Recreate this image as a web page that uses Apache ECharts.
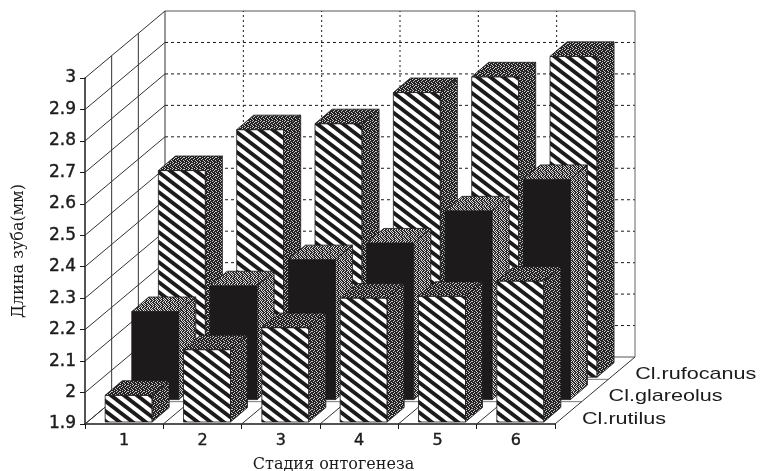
<!DOCTYPE html>
<html><head><meta charset="utf-8">
<style>html,body{margin:0;padding:0;background:#fff}#c{width:763px;height:471px}</style>
<script src="https://cdn.jsdelivr.net/npm/echarts@6/dist/echarts.min.js"></script>
</head><body><div id="c"></div>
<script>
const categories = ['1','2','3','4','5','6'];
const speciesNames = ['Cl.rutilus','Cl.glareolus','Cl.rufocanus'];
const rutilus    = [1.985,2.13,2.20,2.294,2.30,2.348];
const glareolus  = [2.18,2.262,2.345,2.398,2.50,2.60];
const rufocanus  = [2.557,2.687,2.706,2.805,2.855,2.92];
const yTicks = [1.9,2.0,2.1,2.2,2.3,2.4,2.5,2.6,2.7,2.8,2.9,3.0];
const xAxisTitle = 'Стадия онтогенеза';
const yAxisTitle = 'Длина зуба(мм)';

const INK = '#1c1a1b';
const ROW_DX = 26.6, ROW_DY = -22.4;
const WALL_DX = 80, WALL_DY = -67;
const BAR_W = 47, BAR_DX = 17, BAR_DY = -14.5;
const FIRST_DX = 4.5, FIRST_DY = -2;

function tile(w, h, draw){
  const c = document.createElement('canvas'); c.width = w; c.height = h;
  const g = c.getContext('2d'); g.fillStyle = '#fff'; g.fillRect(0,0,w,h); draw(g);
  return {image:c, repeat:'repeat'};
}
const HW = 13, HH = 10;
const hatch = tile(HW,HH,g=>{
  g.strokeStyle = INK; g.lineWidth = 3.8;
  for(let k=-2;k<=2;k++){
    g.beginPath();g.moveTo(k*HW-HW,-HH);g.lineTo(k*HW+2*HW,2*HH);g.stroke();
  }
});
function dots(matrix, color, bg){
  return tile(matrix[0].length, matrix.length, g=>{
    g.fillStyle = bg; g.fillRect(0,0,matrix[0].length,matrix.length);
    g.fillStyle = color;
    matrix.forEach((r,y)=>r.forEach((v,x)=>{if(v) g.fillRect(x,y,1,1);}));
  });
}
const darkStipple = dots([
  [1,1,0,1,1,0,1,1],
  [0,1,1,1,0,1,1,0],
  [1,1,0,1,1,1,0,1],
  [1,0,1,1,1,0,1,1],
  [1,1,1,0,1,1,1,0],
  [0,1,1,1,0,1,1,1]], '#242223', '#c8c8c8');
const midStipple = dots([
  [1,0,1,1,0,1,0,1],
  [0,1,1,0,1,0,1,1],
  [1,1,0,1,1,0,1,0],
  [0,1,1,0,1,1,0,1],
  [1,0,1,1,0,1,1,0],
  [0,1,1,0,1,0,1,1]], '#2a2829', '#dddddd');
const fronts = [hatch, INK, hatch];
const sides  = [darkStipple, midStipple, darkStipple];

function barRender(row){
  return function(params, api){
    const base = api.coord([api.value(0), 1.9]);
    const top  = api.coord([api.value(0), api.value(1)]);
    const ox = FIRST_DX + row*ROW_DX, oy = FIRST_DY + row*ROW_DY;
    const L = base[0]-BAR_W/2+ox, R = L+BAR_W, B = base[1]+oy, T = top[1]+oy;
    const poly = (pts,fill)=>({type:'polygon',shape:{points:pts},
      style:{fill:fill,stroke:INK,lineWidth:0.8}});
    return {type:'group',children:[
      poly([[L,T],[R,T],[R,B],[L,B]],fronts[row]),
      poly([[L,T],[L+BAR_DX,T+BAR_DY],[R+BAR_DX,T+BAR_DY],[R,T]],sides[row]),
      poly([[R,T],[R+BAR_DX,T+BAR_DY],[R+BAR_DX,B+BAR_DY],[R,B]],sides[row])
    ]};
  };
}
const line = (a,b,dash,color,w)=>({type:'line',shape:{x1:a[0],y1:a[1],x2:b[0],y2:b[1]},
  style:{stroke:color||INK,lineWidth:w||1,lineDash:dash||null}});

function wallY(params, api){
  const v = api.value(1), p = api.coord([0,v]), band = api.size([1,0])[0];
  const f = [p[0]-band/2,p[1]], b = [f[0]+WALL_DX,f[1]+WALL_DY];
  const e = [b[0]+band*categories.length,b[1]];
  const edge = v===1.9 || v===3.0;
  return {type:'group',children:[line(f,b,null,'#333'),line(b,e,edge?null:[3,3],edge?'#555':INK)]};
}
function wallX(params, api){
  const i = api.value(0), band = api.size([1,0])[0];
  const bot = api.coord([i,1.9]), top = api.coord([i,3.0]);
  const x = bot[0]-band/2;
  const out = [];
  out.push(line([x,bot[1]],[x+WALL_DX,bot[1]+WALL_DY],null,'#333'));
  out.push(line([x+WALL_DX,bot[1]+WALL_DY],[x+WALL_DX,top[1]+WALL_DY],i===0?null:[2,3],i===0?'#333':INK));
  if(i===categories.length-1){
    const xr = x+band;
    out.push(line([xr,bot[1]],[xr+WALL_DX,bot[1]+WALL_DY],null,'#333'));
    out.push(line([xr+WALL_DX,bot[1]+WALL_DY],[xr+WALL_DX,top[1]+WALL_DY],null,'#666'));
  }
  if(i===0){
    [1,2].forEach(k=>{
      const dx=k*WALL_DX/3, dy=k*WALL_DY/3;
      out.push(line([x+dx,bot[1]+dy],[x+dx,top[1]+dy],null,'#333'));
      out.push(line([x+dx,bot[1]+dy],[x+dx+band*categories.length,bot[1]+dy],null,'#777'));
    });
  }
  return {type:'group',children:out};
}
function rowLabel(params, api){
  const row = api.value(0);
  const p = api.coord([categories.length-1,1.9]), band = api.size([1,0])[0];
  return {type:'text',x:p[0]+band/2+27+row*26.6,y:p[1]-5+row*-22.5,
    scaleX:1.27,
    style:{text:speciesNames[row],font:'17px "Liberation Sans"',fill:INK,
      textAlign:'left',textVerticalAlign:'middle'}};
}
const idx = categories.map((_,i)=>i);
const bars = [rufocanus,glareolus,rutilus].map((vals,k)=>{
  const row = 2-k;
  return {type:'custom',name:speciesNames[row],coordinateSystem:'cartesian2d',clip:false,z:5+k,
    renderItem:barRender(row),encode:{x:0,y:1},data:vals.map((v,i)=>[i,v]),silent:true};
});
const chart = echarts.init(document.getElementById('c'),null,{renderer:'canvas'});
chart.setOption({
  animation:false,backgroundColor:'#fff',
  grid:{left:85,right:208,top:78,bottom:47,outerBoundsMode:'none'},
  xAxis:{type:'category',data:categories,boundaryGap:true,
    name:xAxisTitle,nameLocation:'center',nameGap:33,
    nameTextStyle:{fontFamily:'DejaVu Serif',fontSize:16,color:INK,padding:[0,0,0,27]},
    axisLine:{onZero:false,lineStyle:{color:INK,width:1.5}},
    axisTick:{show:true,length:5,lineStyle:{color:INK}},
    axisLabel:{fontFamily:'DejaVu Sans',fontSize:16,color:INK,margin:9,textBorderColor:INK,textBorderWidth:0.4},
    splitLine:{show:false}},
  yAxis:{type:'value',min:1.9,max:3,interval:0.1,
    name:yAxisTitle,nameLocation:'center',nameGap:58,
    nameTextStyle:{fontFamily:'DejaVu Serif',fontSize:16,color:INK},
    axisLine:{show:true,lineStyle:{color:INK,width:1.5}},
    axisTick:{show:true,length:5,lineStyle:{color:INK}},
    axisLabel:{fontFamily:'DejaVu Sans',fontSize:17,color:INK,margin:9,textBorderColor:INK,textBorderWidth:0.4,
      formatter:v=>String(+v.toFixed(1))},
    splitLine:{show:false}},
  series:[
    {type:'custom',name:'wallY',coordinateSystem:'cartesian2d',clip:false,z:1,silent:true,
      renderItem:wallY,encode:{x:0,y:1},data:yTicks.map(v=>[0,v])},
    {type:'custom',name:'wallX',coordinateSystem:'cartesian2d',clip:false,z:1,silent:true,
      renderItem:wallX,encode:{x:0},data:idx.map(i=>[i,1.9])},
    ...bars,
    {type:'custom',name:'rowLabels',coordinateSystem:'cartesian2d',clip:false,z:9,silent:true,
      renderItem:rowLabel,encode:{x:1},data:speciesNames.map((_,i)=>[i,0])}
  ]
});
</script></body></html>
